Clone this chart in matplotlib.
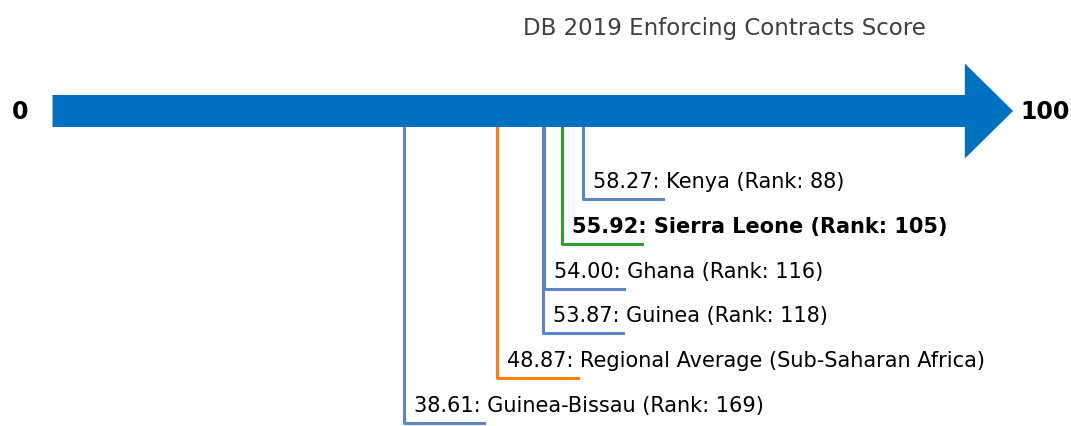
import matplotlib
matplotlib.use("Agg")
from matplotlib import pyplot as plt
from matplotlib.patches import FancyArrow

# data
countries = ["Kenya", "Sierra Leone", "Ghana", "Guinea",
             "Regional Average (Sub-Saharan Africa)", "Guinea-Bissau"]
scores = [58.27, 55.92, 54.00, 53.87, 48.87, 38.61]
ranks = [88, 105, 116, 118, None, 169]
colors = ["#5b87c5", "#2ca02c", "#5b87c5", "#5b87c5", "#ff7f0e", "#5b87c5"]
highlight = "Sierra Leone"
title = "DB 2019 Enforcing Contracts Score"

fig = plt.figure(figsize=(10.71, 4.27), dpi=100)
ax = fig.add_axes([0, 0, 1, 1])
ax.set_xlim(-5.766, 111.86)
ax.set_ylim(427, 0)
ax.axis("off")

arrow_y = 112
ax.add_patch(FancyArrow(0, arrow_y, 105.5, 0, width=32, head_width=95,
                        head_length=5.3, length_includes_head=True,
                        color="#0070c0", linewidth=0, zorder=3))
ax.text(-3.57, arrow_y, "0", fontsize=17, fontweight="bold",
        ha="center", va="center")
ax.text(109.0, arrow_y, "100", fontsize=17, fontweight="bold",
        ha="center", va="center")
ax.text(73.8, 29, title, fontsize=16.5, color="#404040", ha="center", va="center")

y0 = 200
step = 44.8
for i, (name, s, r, c) in enumerate(zip(countries, scores, ranks, colors)):
    y = y0 + i * step
    ax.plot([s, s, s + 8.8], [arrow_y, y, y], color=c, linewidth=2.2, zorder=2)
    label = f"{s:.2f}: {name}"
    if r is not None:
        label += f" (Rank: {r})"
    ax.text(s + 1.1, y - 18, label, fontsize=15, va="center", ha="left",
            fontweight="bold" if name == highlight else "normal")

fig.savefig("out.png", dpi=100)
